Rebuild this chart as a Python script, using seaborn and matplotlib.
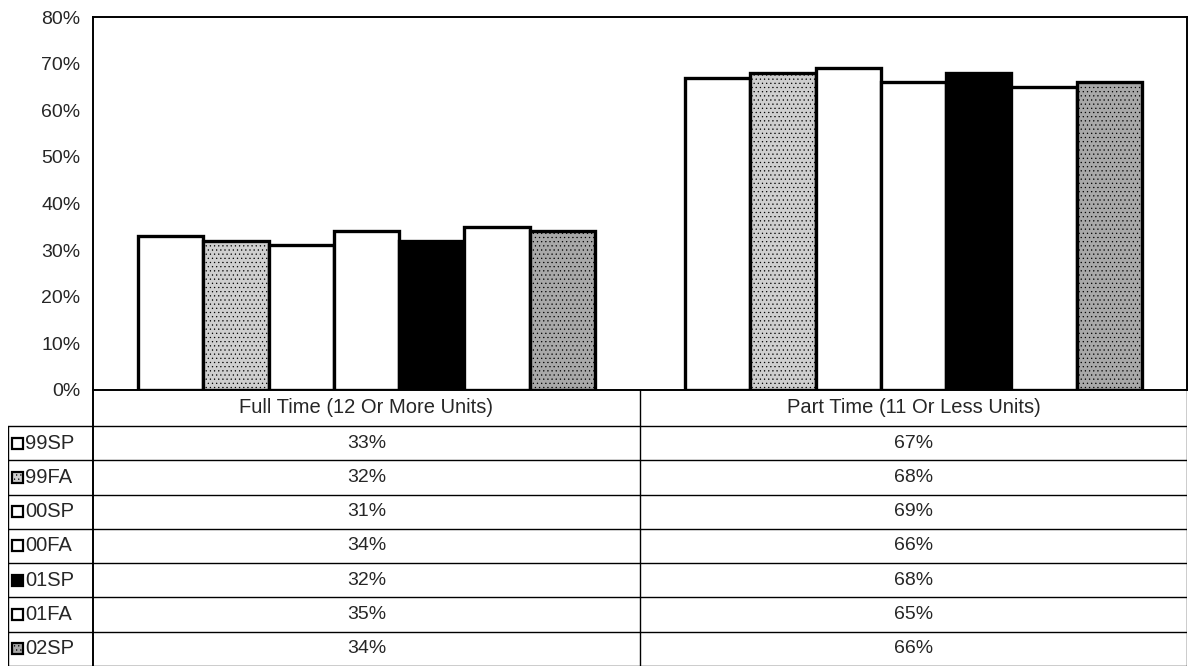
#!/usr/bin/env python3
import pandas as pd
import seaborn as sns
import matplotlib.pyplot as plt
from matplotlib.patches import Rectangle

# enrollment status share by term
categories = ["Full Time (12 Or More Units)", "Part Time (11 Or Less Units)"]
terms = ["99SP", "99FA", "00SP", "00FA", "01SP", "01FA", "02SP"]
full_time = [33, 32, 31, 34, 32, 35, 34]
part_time = [67, 68, 69, 66, 68, 65, 66]
yticks = [0, 10, 20, 30, 40, 50, 60, 70, 80]

term_colors = ["white", "#cfcfcf", "white", "white", "black", "white", "#a8a8a8"]
term_hatch = [None, "....", None, None, None, None, "...."]

df = pd.DataFrame({
    "status": [categories[0]] * len(terms) + [categories[1]] * len(terms),
    "term": terms * 2,
    "pct": full_time + part_time,
})

sns.set_style("white")
plt.rcParams["font.family"] = ["Liberation Sans", "DejaVu Sans"]
plt.rcParams["hatch.linewidth"] = 0.4

W, H = 1191, 667
L, R, T, B = 93, 1187, 17, 390
fig = plt.figure(figsize=(W / 100, H / 100), dpi=100)
ax = fig.add_axes([L / W, 1 - B / H, (R - L) / W, (B - T) / H])

sns.barplot(data=df, x="status", y="pct", hue="term", palette=term_colors,
            width=0.835, gap=0, saturation=1, edgecolor="black",
            linewidth=2.4, legend=False, ax=ax)
for cont, hatch in zip(ax.containers, term_hatch):
    if hatch:
        for bar in cont:
            bar.set_hatch(hatch)

ax.set_xlim(-0.5, 1.5)
ax.set_ylim(0, 80)
ax.set_yticks(yticks)
ax.set_yticklabels(["{}%".format(v) for v in yticks], fontsize=14)
ax.set_xticks([])
ax.set_xlabel("")
ax.set_ylabel("")
ax.tick_params(axis="y", direction="out", length=5, width=1, color="black", pad=4)
for sp in ax.spines.values():
    sp.set_color("black")
    sp.set_linewidth(1.4)

# data table under the chart
px_per_unit = (R - L) / 2.0
lab_w = (L - 8) / px_per_unit
row_h = 34.3
h0 = 36 / row_h
tab = fig.add_axes([8 / W, 1 - 666 / H, (R - 8) / W, (666 - B) / H])
tab.set_xlim(-0.5 - lab_w, 1.5)
tab.set_ylim(h0 + len(terms), 0)
tab.axis("off")

lw = 1.0
x0 = -0.5 - lab_w
tab.plot([-0.5, -0.5], [0, h0 + len(terms)], color="black", lw=1.4)
tab.plot([0.5, 0.5], [0, h0 + len(terms)], color="black", lw=lw)
tab.plot([1.5, 1.5], [0, h0 + len(terms)], color="black", lw=lw)
tab.plot([x0, x0], [h0, h0 + len(terms)], color="black", lw=lw)
for i in range(len(terms) + 1):
    tab.plot([x0, 1.5], [h0 + i, h0 + i], color="black", lw=lw)

for j, cat in enumerate(categories):
    tab.text(j, h0 / 2, cat, ha="center", va="center", fontsize=14.5)

sq_w = 11 / px_per_unit
sq_h = 11 / row_h
for i, term in enumerate(terms):
    yc = h0 + i + 0.5
    tab.add_patch(Rectangle((x0 + 4 / px_per_unit, yc - sq_h / 2), sq_w, sq_h,
                            facecolor=term_colors[i], edgecolor="black",
                            lw=1.6, hatch=term_hatch[i]))
    tab.text(x0 + 17 / px_per_unit, yc, term, ha="left", va="center", fontsize=14.5)
    tab.text(0, yc, "{}%".format(full_time[i]), ha="center", va="center", fontsize=14)
    tab.text(1, yc, "{}%".format(part_time[i]), ha="center", va="center", fontsize=14)

plt.savefig("out.png", dpi=100)
plt.close()
